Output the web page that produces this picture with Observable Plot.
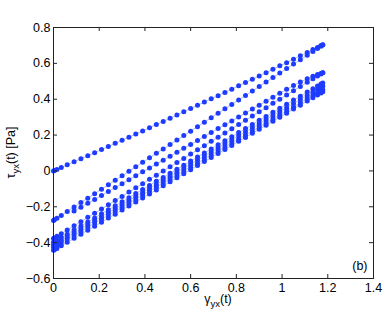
<!DOCTYPE html>
<html><head><meta charset="utf-8">
<script src="https://cdn.jsdelivr.net/npm/d3@7"></script>
<script src="https://cdn.jsdelivr.net/npm/@observablehq/plot@0.6"></script>
<style>body{margin:0;background:#fff} svg{font-family:"Liberation Sans",Arial,sans-serif}</style>
</head><body><div id="chart"></div>
<script>
// shear strain samples gamma_yx(t) (shared by all traces)
const strain = [0, 0.004, 0.015, 0.034, 0.06, 0.09, 0.12, 0.15, 0.18, 0.21, 0.24, 0.27, 0.30, 0.33, 0.36, 0.39, 0.42, 0.45, 0.48, 0.51, 0.54, 0.57, 0.60, 0.63, 0.66, 0.69, 0.72, 0.75, 0.78, 0.81, 0.84, 0.87, 0.90, 0.93, 0.96, 0.99, 1.02, 1.05, 1.08, 1.11, 1.135, 1.155, 1.17, 1.178];

// shear stress tau_yx(t) [Pa] for each trace (a trace ending early starts later in strain)
const stressA = [0, 0.002, 0.008, 0.019, 0.034, 0.051, 0.068, 0.085, 0.102, 0.119, 0.136, 0.154, 0.171, 0.188, 0.206, 0.223, 0.241, 0.259, 0.276, 0.294, 0.312, 0.330, 0.348, 0.366, 0.384, 0.402, 0.420, 0.438, 0.456, 0.475, 0.493, 0.511, 0.530, 0.548, 0.567, 0.586, 0.604, 0.623, 0.642, 0.661, 0.677, 0.689, 0.699, 0.704];
const stressB = [-0.276, -0.273, -0.264, -0.248, -0.226, -0.201, -0.176, -0.152, -0.127, -0.102, -0.077, -0.052, -0.027, -0.002, 0.023, 0.048, 0.073, 0.098, 0.122, 0.147, 0.172, 0.197, 0.222, 0.247, 0.272, 0.297, 0.322, 0.347, 0.371, 0.396, 0.421, 0.446, 0.471, 0.496, 0.521, 0.546, 0.571, 0.596, 0.620, 0.645, 0.666, 0.683, 0.695, 0.702];
const stressB2 = [-0.224, -0.202, -0.180, -0.159, -0.137, -0.115, -0.093, -0.071, -0.049, -0.027, -0.005, 0.017, 0.039, 0.060, 0.082, 0.104, 0.126, 0.148, 0.170, 0.192, 0.214, 0.236, 0.258, 0.279, 0.301, 0.323, 0.345, 0.367, 0.389, 0.411, 0.433, 0.455, 0.476, 0.496, 0.514, 0.528, 0.538, 0.544, 0.547];
const stressC = [-0.377, -0.374, -0.365, -0.350, -0.330, -0.306, -0.283, -0.259, -0.236, -0.212, -0.189, -0.165, -0.142, -0.118, -0.094, -0.071, -0.047, -0.024, 0.000, 0.023, 0.047, 0.070, 0.094, 0.118, 0.141, 0.165, 0.188, 0.212, 0.235, 0.259, 0.282, 0.306, 0.330, 0.353, 0.377, 0.400, 0.424, 0.447, 0.471, 0.494, 0.514, 0.530, 0.541, 0.548];
const stressD1 = [-0.398, -0.395, -0.387, -0.372, -0.353, -0.330, -0.307, -0.285, -0.262, -0.239, -0.217, -0.194, -0.172, -0.149, -0.126, -0.104, -0.081, -0.058, -0.036, -0.013, 0.010, 0.032, 0.055, 0.078, 0.100, 0.123, 0.146, 0.168, 0.191, 0.214, 0.236, 0.259, 0.282, 0.304, 0.327, 0.349, 0.372, 0.395, 0.417, 0.440, 0.459, 0.474, 0.485, 0.491];
const stressD2 = [-0.412, -0.409, -0.401, -0.387, -0.367, -0.345, -0.322, -0.300, -0.277, -0.255, -0.232, -0.210, -0.187, -0.165, -0.142, -0.120, -0.097, -0.075, -0.052, -0.030, -0.007, 0.016, 0.038, 0.061, 0.083, 0.106, 0.128, 0.151, 0.173, 0.196, 0.218, 0.241, 0.263, 0.286, 0.308, 0.331, 0.353, 0.376, 0.398, 0.421, 0.439, 0.454, 0.466, 0.472];
const stressD3 = [-0.425, -0.422, -0.414, -0.400, -0.380, -0.358, -0.336, -0.313, -0.291, -0.269, -0.246, -0.224, -0.202, -0.179, -0.157, -0.134, -0.112, -0.090, -0.067, -0.045, -0.023, 0.000, 0.022, 0.044, 0.067, 0.089, 0.111, 0.134, 0.156, 0.178, 0.201, 0.223, 0.246, 0.268, 0.290, 0.313, 0.335, 0.357, 0.380, 0.402, 0.421, 0.435, 0.447, 0.453];
const stressD4 = [-0.443, -0.440, -0.432, -0.418, -0.398, -0.376, -0.353, -0.331, -0.308, -0.286, -0.263, -0.241, -0.218, -0.196, -0.173, -0.151, -0.128, -0.106, -0.083, -0.061, -0.038, -0.016, 0.007, 0.030, 0.052, 0.075, 0.097, 0.120, 0.142, 0.165, 0.187, 0.210, 0.232, 0.255, 0.277, 0.300, 0.322, 0.345, 0.367, 0.390, 0.408, 0.423, 0.435, 0.441];

const xTicks = [0, 0.2, 0.4, 0.6, 0.8, 1, 1.2, 1.4];
const yTicks = [-0.6, -0.4, -0.2, 0, 0.2, 0.4, 0.6, 0.8];
const panelLabel = "(b)";

const traces = {A: stressA, B: stressB, B2: stressB2, C: stressC, D1: stressD1, D2: stressD2, D3: stressD3, D4: stressD4};
const rows = [];
for (const [name, ys] of Object.entries(traces)) {
  const off = strain.length - ys.length;
  ys.forEach((y, i) => rows.push({trace: name, x: strain[i + off], y}));
}

const fmt = d => (d < 0 ? "\u2212" + Math.abs(d) : String(d));
const W = 385, H = 312, mL = 53, mR = 12, mT = 27, mB = 34;
const pw = W - mL - mR, ph = H - mT - mB, tk = 4;
const axisColor = "#222";
const fs = 12.5;

const chart = Plot.plot({
  width: W, height: H,
  marginLeft: mL, marginRight: mR, marginTop: mT, marginBottom: mB,
  x: {domain: [0, 1.4]},
  y: {domain: [-0.6, 0.8]},
  style: {fontFamily: '"Liberation Sans", Arial, sans-serif', fontSize: fs + "px", color: "#000", background: "#fff"},
  marks: [
    Plot.line(rows, {x: "x", y: "y", z: "trace", stroke: "#8a9bff", strokeWidth: 0.7}),
    Plot.dot(rows, {x: "x", y: "y", r: 2.5, fill: "#1e3cff", stroke: "none"}),
    Plot.frame({stroke: axisColor}),
    Plot.tickX(xTicks, {x: d => d, insetTop: ph - tk, stroke: axisColor}),
    Plot.tickX(xTicks, {x: d => d, insetBottom: ph - tk, stroke: axisColor}),
    Plot.tickY(yTicks, {y: d => d, insetRight: pw - tk, stroke: axisColor}),
    Plot.tickY(yTicks, {y: d => d, insetLeft: pw - tk, stroke: axisColor}),
    Plot.axisX(xTicks, {tickSize: 0, tickPadding: 5, tickFormat: fmt, label: null, fontSize: fs}),
    Plot.axisY(yTicks, {tickSize: 0, tickPadding: 3, tickFormat: fmt, label: null, fontSize: fs}),
    Plot.text([panelLabel], {text: d => d, frameAnchor: "bottom-right", dx: -6, dy: -9, fontSize: fs, fill: "#000"})
  ]
});
document.getElementById("chart").appendChild(chart);

const svg = d3.select(chart);
// x axis label: gamma_yx(t)
const xl = svg.append("text").attr("x", 218).attr("y", 303).attr("text-anchor", "middle")
  .attr("font-size", fs).attr("fill", "#000");
xl.append("tspan").text("\u03b3");
xl.append("tspan").attr("font-size", 9.5).attr("dy", 4).text("yx");
xl.append("tspan").attr("dy", -4).text("(t)");
// y axis label: tau_yx(t) [Pa]
const yl = svg.append("text").attr("transform", `translate(15,${mT + ph / 2}) rotate(-90)`)
  .attr("text-anchor", "middle").attr("font-size", fs).attr("fill", "#000");
yl.append("tspan").text("\u03c4");
yl.append("tspan").attr("font-size", 9.5).attr("dy", 4).text("yx");
yl.append("tspan").attr("dy", -4).text("(t) [Pa]");
</script>
</body></html>
